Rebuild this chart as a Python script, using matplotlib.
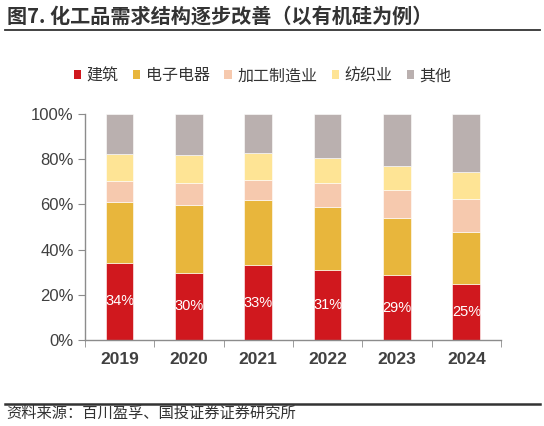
import numpy as np
import matplotlib.pyplot as plt
from matplotlib.lines import Line2D
from matplotlib.patches import Patch

plt.rcParams['font.family'] = ['Noto Sans CJK SC', 'DejaVu Sans']

years = ['2019', '2020', '2021', '2022', '2023', '2024']
series = ['建筑', '电子电器', '加工制造业', '纺织业', '其他']
colors = ['#D0181E', '#E8B63C', '#F6C9AE', '#FEE495', '#BAB0AF']

jianzhu = [34.2, 29.7, 33.1, 30.9, 28.6, 24.7]
dianzi = [27.1, 30.1, 28.8, 28.0, 25.4, 23.1]
jiagong = [9.3, 9.8, 9.1, 10.6, 12.5, 14.7]
fangzhi = [11.9, 12.1, 12.0, 11.1, 10.5, 11.7]
qita = [17.5, 18.3, 17.0, 19.4, 23.0, 25.8]

data = [jianzhu, dianzi, jiagong, fangzhi, qita]

fig = plt.figure(figsize=(5.44, 4.26), dpi=100)
ax = fig.add_axes([0.156, 0.202, 0.765, 0.53])

x = np.arange(len(years))
bottom = np.zeros(len(years))
for vals, c in zip(data, colors):
    vals = np.array(vals)
    ax.bar(x, vals, 0.4, bottom=bottom, color=c, edgecolor='white', linewidth=0.4)
    bottom += vals

# label in the middle of the red segment
for xi, v in zip(x, jianzhu):
    ax.text(xi, v / 2, '%d%%' % round(v), ha='center', va='center', color='white',
            fontsize=10.5, family='Liberation Sans')

ax.set_xlim(-0.5, 5.5)
ax.set_ylim(0, 100)
ax.set_yticks(np.arange(0, 101, 20))
ax.set_yticklabels(['%d%%' % v for v in range(0, 101, 20)], family='Liberation Sans',
                   fontsize=12, color='#404040')
ax.set_xticks(x)
ax.set_xticklabels(years, family='Liberation Sans', fontsize=12.5, fontweight='bold',
                   color='#404040')
ax.set_xticks(np.arange(-0.5, 6, 1), minor=True)
ax.tick_params(axis='x', which='major', length=0, pad=9)
ax.tick_params(axis='x', which='minor', length=5, color='#8c8c8c', direction='out')
ax.tick_params(axis='y', length=5, color='#8c8c8c', pad=3)

for s in ['top', 'right']:
    ax.spines[s].set_visible(False)
for s in ['left', 'bottom']:
    ax.spines[s].set_color('#8c8c8c')
    ax.spines[s].set_linewidth(1)

handles = [Patch(facecolor=c) for c in colors]
fig.legend(handles, series, loc='center', bbox_to_anchor=(0.483, 0.822), ncol=5,
           frameon=False, fontsize=11.5, handlelength=0.45, handleheight=0.45,
           handletextpad=0.35, columnspacing=0.9, labelcolor='#333333')

fig.text(0.012, 0.962, '图7. 化工品需求结构逐步改善（以有机硅为例）', fontsize=14.5,
         fontweight='bold', color='#333333', va='center', ha='left')
fig.add_artist(Line2D([0.01, 0.993], [0.93, 0.93], color='#333333', linewidth=1.3))
fig.add_artist(Line2D([0.01, 0.993], [0.052, 0.052], color='#333333', linewidth=1.8))
fig.text(0.012, 0.03, '资料来源：百川盈孚、国投证券证券研究所', fontsize=11,
         style='italic', color='#333333', va='center', ha='left')

fig.savefig('out.png', dpi=100)
